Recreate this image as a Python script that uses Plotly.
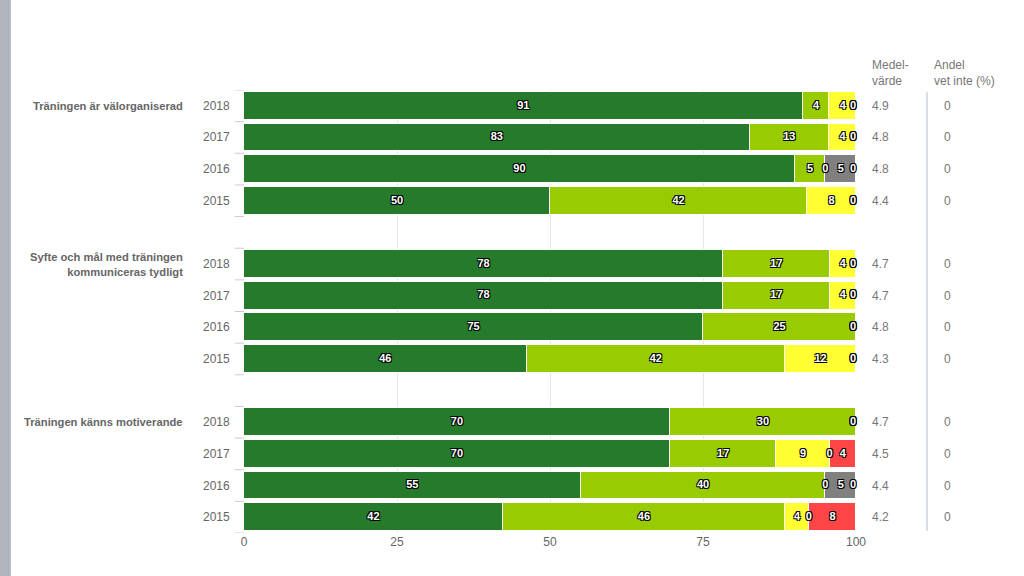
import plotly.graph_objects as go

groups = ["Träningen är välorganiserad",
          "Syfte och mål med träningen<br>kommuniceras tydligt",
          "Träningen känns motiverande"]
years = ["2018", "2017", "2016", "2015"]

# series per row (group-major, years 2018..2015)
s5 = [91.3, 82.6, 90, 50,   78.3, 78.3, 75, 46.2,   69.6, 69.6, 55, 42.3]
s4 = [4.35, 13.0, 5, 42,    17.4, 17.4, 25, 42.2,   30.4, 17.4, 40, 46.1]
s3 = [4.35, 4.4, 0, 8,      4.3, 4.3, 0, 11.6,      0, 8.7, 0, 3.9]
s2 = [0, 0, 5, 0,           0, 0, 0, 0,             0, 0, 5, 0]
s1 = [0, 0, 0, 0,           0, 0, 0, 0,             0, 4.3, 0, 7.7]
medel = ["4.9", "4.8", "4.8", "4.4", "4.7", "4.7", "4.8", "4.3", "4.7", "4.5", "4.4", "4.2"]
vet_inte = ["0"] * 12

series = [s5, s4, s3, s2, s1]
colors = ["#267a2c", "#99cc00", "#ffff33", "#808080", "#ff4545"]

GAP = 1
ypos = []
for g in range(len(groups)):
    for j in range(len(years)):
        ypos.append(g * (len(years) + GAP) + j)
ymax = ypos[-1]

fig = go.Figure()
for vals, col in zip(series, colors):
    fig.add_trace(go.Bar(
        x=vals, y=ypos, orientation="h", marker=dict(color=col, line=dict(color="white", width=1)),
        width=0.88, hoverinfo="skip", showlegend=False))

# data labels
lx, ly, lt, lx_end, ly_end, lt_end = [], [], [], [], [], []
for i in range(len(ypos)):
    cum = 0
    for vals in series:
        v = vals[i]
        c = cum + v / 2
        txt = f"{round(v):d}"
        if v == 0 and cum >= 99:
            lx_end.append(100); ly_end.append(ypos[i]); lt_end.append(txt)
        else:
            lx.append(c); ly.append(ypos[i]); lt.append(txt)
        cum += v

lab_font = dict(family="Liberation Sans, Arial, sans-serif", size=11, color="white", weight="bold",
                shadow="1px 1px 0 #000, -1px -1px 0 #000, 1px -1px 0 #000, -1px 1px 0 #000")
fig.add_trace(go.Scatter(x=lx, y=ly, text=lt, mode="text", textposition="middle center",
                         textfont=lab_font, hoverinfo="skip", showlegend=False, cliponaxis=False))
fig.add_trace(go.Scatter(x=lx_end, y=ly_end, text=lt_end, mode="text", textposition="middle left",
                         textfont=lab_font, hoverinfo="skip", showlegend=False, cliponaxis=False))

annotations = []
shapes = []
txtgray = "#666666"
# year labels
for i, yv in enumerate(ypos):
    annotations.append(dict(x=-0.02, xref="paper", y=yv, yref="y", text=years[i % len(years)],
                            showarrow=False, xanchor="right", yanchor="middle",
                            font=dict(family="Liberation Sans, Arial", size=12, color=txtgray)))
    annotations.append(dict(x=1.023, xref="paper", y=yv, yref="y", text=medel[i],
                            showarrow=False, xanchor="left", yanchor="middle",
                            font=dict(family="Liberation Sans, Arial", size=12, color="#777777")))
    annotations.append(dict(x=1.14, xref="paper", y=yv, yref="y", text=vet_inte[i],
                            showarrow=False, xanchor="left", yanchor="middle",
                            font=dict(family="Liberation Sans, Arial", size=12, color="#777777")))
# group labels
for g, name in enumerate(groups):
    yv = ypos[g * len(years)]
    annotations.append(dict(x=-0.097, xref="paper", y=yv, yref="y", text="<b>" + name + "</b>",
                            showarrow=False, xanchor="right", yanchor="middle", align="right",
                            font=dict(family="Liberation Sans, Arial", size=11.2, color=txtgray)))
# column headers
annotations.append(dict(x=1.023, xref="paper", y=1.038, yref="paper", text="Medel-<br>värde",
                        showarrow=False, xanchor="left", yanchor="middle", align="left",
                        font=dict(family="Liberation Sans, Arial", size=12, color="#777777")))
annotations.append(dict(x=1.124, xref="paper", y=1.038, yref="paper", text="Andel<br>vet inte (%)",
                        showarrow=False, xanchor="left", yanchor="middle", align="left",
                        font=dict(family="Liberation Sans, Arial", size=12, color="#777777")))
# category boundary ticks
k = -0.5
while k <= ymax + 0.5:
    shapes.append(dict(type="line", xref="paper", x0=-0.015, x1=0, yref="y", y0=k, y1=k,
                       line=dict(color="#cccccc", width=1)))
    k += 1
# separator line between columns
shapes.append(dict(type="line", xref="paper", x0=1.116, x1=1.116, yref="paper", y0=0.005, y1=0.995,
                   line=dict(color="#c8d4e0", width=1.5)))
# left gray bar
shapes.append(dict(type="rect", xref="paper", yref="paper", x0=-0.399, x1=-0.381, y0=-0.2, y1=1.3,
                   fillcolor="#b0b4bc", line=dict(width=0), layer="below"))

fig.update_layout(
    width=1024, height=576, barmode="stack", bargap=0,
    margin=dict(l=244, r=168, t=90, b=43),
    plot_bgcolor="white", paper_bgcolor="white",
    xaxis=dict(range=[0, 100], tickvals=[0, 25, 50, 75, 100], showgrid=True, gridcolor="#e6e6e6",
               zeroline=False, showline=False, ticks="",
               tickfont=dict(family="Liberation Sans, Arial", size=12, color=txtgray)),
    yaxis=dict(range=[ymax + 0.5, -0.5], showticklabels=False, showgrid=False, zeroline=False, ticks=""),
    annotations=annotations, shapes=shapes,
)
fig.write_html("out.html", config={"displayModeBar": False},
               post_script="document.body.style.margin='0';document.body.style.overflow='hidden';")
